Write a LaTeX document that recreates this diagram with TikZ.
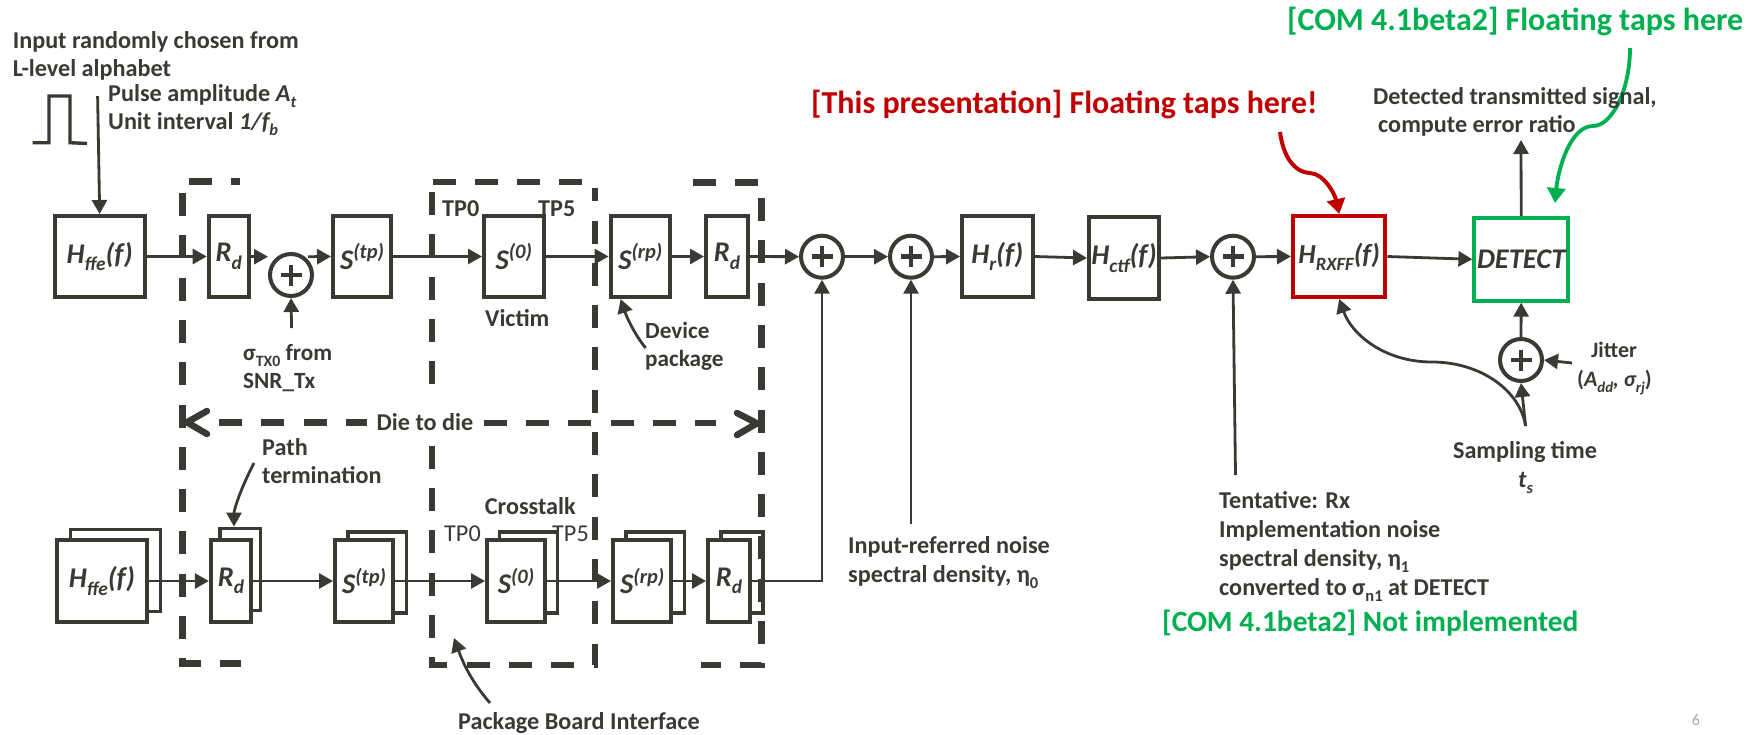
\documentclass[tikz,border=0pt]{standalone}
\usepackage{fontspec}
\setmainfont{Carlito}
\usetikzlibrary{arrows.meta}
\definecolor{ink}{HTML}{3A3A35}
\definecolor{redc}{HTML}{C00000}
\definecolor{greenc}{HTML}{00B050}
\newcommand\lo[1]{\raisebox{-.26em}{\scalebox{.68}{#1}}}
\newcommand\hi[1]{\raisebox{.36em}{\scalebox{.72}{#1}}}
\tikzset{
  box/.style={draw=ink,line width=4pt,fill=white,inner sep=0pt,text=ink,font=\fontsize{28.5}{30}\selectfont\bfseries\itshape},
  backbox/.style={draw=ink,line width=3.4pt,fill=white,inner sep=0pt},
  conn/.style={draw=ink,line width=2.8pt},
  arr/.style={conn,-{Triangle[length=14pt,width=15pt]}},
  dashbox/.style={draw=ink,line width=6.5pt,dash pattern=on 23pt off 19.3pt},
  sumnode/.style={circle,draw=ink,line width=4pt,fill=white,minimum size=42pt,inner sep=0pt,
    path picture={\draw[ink,line width=4.5pt]
      ([xshift=-10.5pt]path picture bounding box.center)--([xshift=10.5pt]path picture bounding box.center)
      ([yshift=-10.5pt]path picture bounding box.center)--([yshift=10.5pt]path picture bounding box.center);}},
  lab/.style={anchor=base west,inner sep=0pt,text=ink,font=\fontsize{24.2}{28}\selectfont\bfseries},
  labc/.style={lab,anchor=base},
  labreg/.style={lab,font=\fontsize{24.2}{28}\selectfont},
  hl/.style={anchor=base west,inner sep=0pt,font=\fontsize{32}{36}\selectfont\bfseries},
}
\begin{document}
\begin{tikzpicture}[x=1pt,y=-1pt]
\useasboundingbox (0,0) rectangle (1748,734);
\fill[white] (0,0) rectangle (1748,734);

% free ends
\coordinate (inp) at (97.6,96);
\coordinate (rdout) at (268,256.7);
\coordinate (sumout) at (308,256.7);
\coordinate (snr) at (291.6,328);
\coordinate (noise0) at (911,524);
\coordinate (noise1) at (1235.5,475);
\coordinate (ts) at (1525.6,426);
\coordinate (jit) at (1572,363);
\coordinate (det) at (1521,140);
\coordinate (pterm) at (254,463);
\coordinate (pbi) at (490,703);
\coordinate (pbitip) at (454,638);
\coordinate (devp) at (645.7,348);
\coordinate (redst) at (1280,132);
\coordinate (grnst) at (1630,48);
\coordinate (grnen) at (1555,203);

% top row
\node[box,minimum width=90pt,minimum height=81pt] (hffe) at (99.7,256.5) {H\lo{ffe}(f)};
\node[box,minimum width=40pt,minimum height=81pt] (rdA) at (228.7,256.5) {R\lo{d}};
\node[sumnode] (sumA) at (291,275) {};
\node[box,minimum width=58pt,minimum height=81pt] (stp) at (362,256.5) {S\hi{(tp)}};
\node[box,minimum width=59.5pt,minimum height=81pt] (szero) at (513.75,256.5) {S\hi{(0)}};
\node[box,minimum width=59.4pt,minimum height=81pt] (srp) at (640.3,256.5) {S\hi{(rp)}};
\node[box,minimum width=42pt,minimum height=81pt] (rdB) at (727,256.5) {R\lo{d}};
\node[sumnode] (sumB) at (822,256.7) {};
\node[sumnode] (sumC) at (911,256.7) {};
\node[box,minimum width=70.6pt,minimum height=81pt] (hr) at (997.3,256.5) {H\lo{r}(f)};
\node[box,minimum width=70pt,minimum height=82pt] (hctf) at (1124,258) {H\lo{ctf}(f)};
\node[sumnode] (sumD) at (1233,256.7) {};
\node[box,draw=redc,minimum width=92.5pt,minimum height=81pt,font=\fontsize{27.5}{30}\selectfont\bfseries\itshape] (hrx) at (1339.2,256.5) {H\lo{RXFF}(f)};
\node[box,draw=greenc,minimum width=93.6pt,minimum height=82.7pt] (detect) at (1521.2,259.3) {DETECT};
\node[sumnode] (sumE) at (1521,360) {};

% bottom row
\node[backbox,minimum width=90.4pt,minimum height=82.4pt] (hffeK) at (115.5,570.5) {};
\node[box,minimum width=90pt,minimum height=82pt] (hffeF) at (102,581) {H\lo{ffe}(f)};
\node[backbox,minimum width=40.4pt,minimum height=82.4pt] (rdK) at (240,569.5) {};
\node[box,minimum width=40.3pt,minimum height=82pt] (rdF) at (231,581) {R\lo{d}};
\node[backbox,minimum width=58.4pt,minimum height=81pt] (stpK) at (377,572.3) {};
\node[box,minimum width=58pt,minimum height=82pt] (stpF) at (364,581) {S\hi{(tp)}};
\node[backbox,minimum width=58.4pt,minimum height=81pt] (szK) at (528.5,572.3) {};
\node[box,minimum width=58pt,minimum height=82pt] (szF) at (516,581) {S\hi{(0)}};
\node[backbox,minimum width=58.4pt,minimum height=81pt] (srpK) at (655.3,572.3) {};
\node[box,minimum width=58.4pt,minimum height=82pt] (srpF) at (642.2,581) {S\hi{(rp)}};
\node[backbox,minimum width=41.9pt,minimum height=81pt] (rdbK) at (742,572.3) {};
\node[box,minimum width=42pt,minimum height=82pt] (rdbF) at (729,581) {R\lo{d}};

% connectors, top
\draw[arr] (inp) -- (hffe.north);
\draw[arr] (hffe.east) -- (rdA.west);
\draw[arr] (rdA.east|-rdout) -- (rdout);
\draw[arr] (sumout) -- (stp.west);
\draw[arr] (snr) -- (sumA.south);
\draw[arr] (stp.east) -- (szero.west);
\draw[arr] (szero.east) -- (srp.west);
\draw[arr] (srp.east) -- (rdB.west);
\draw[arr] (rdB.east) -- (sumB.west);
\draw[arr] (sumB.east) -- (sumC.west);
\draw[arr] (sumC.east) -- (hr.west);
\draw[arr] (hr.east) -- (hctf.west);
\draw[arr] (hctf.east) -- (sumD.west);
\draw[arr] (sumD.east) -- (hrx.west);
\draw[arr] (hrx.east) -- (detect.west);
\draw[arr] (detect.north) -- (det);
\draw[arr] (sumE.north) -- (detect.south);
\draw[arr] (noise0) -- (sumC.south);
\draw[arr] (noise1) -- (sumD.south);
\draw[arr] (ts) -- (sumE.south);
\draw[arr] (jit) -- (sumE.east);
\draw[arr] (ts) .. controls (1520,390) and (1480,362) .. (1432,362) .. controls (1385,362) and (1352,335) .. (hrx.south);

% connectors, bottom
\draw[arr] (hffeF.east) -- (rdF.west);
\draw[arr] (rdF.east) -- (stpF.west);
\draw[arr] (stpF.east) -- (szF.west);
\draw[arr] (szF.east) -- (srpF.west);
\draw[arr] (srpF.east) -- (rdbF.west);
\draw[arr] (rdbF.east) -| (sumB.south);

% callout curves
\draw[arr] (pterm) .. controls (240,490) and (234,510) .. ([xshift=-6pt]rdK.north);
\draw[arr] (pbi) .. controls (470,680) and (462,660) .. (pbitip);
\draw[arr] (devp) .. controls (635,335) and (627,318) .. ([xshift=12pt]srp.south west);
\draw[draw=redc,line width=4pt,-{Triangle[length=15pt,width=18pt]}] (redst) .. controls (1283,155) and (1293,172) .. (1310,173) .. controls (1325,174) and (1335,195) .. (hrx.north);
\draw[draw=greenc,line width=3.8pt,-{Triangle[length=15pt,width=18pt]}] (grnst) .. controls (1630,90) and (1612,126) .. (1593,126) .. controls (1570,126) and (1558,170) .. (grnen);

% pulse
\draw[ink,line width=3.4pt] (32.5,142.7) -- (49,142.7) -- (49,96) -- (70,96) -- (70,142.7) -- (87,143.5);

% dashed enclosures
\draw[dashbox] (188.7,181.5) -- (240,181.5);
\draw[dashbox] (182.5,193) -- (182.5,663.3) -- (241,663.3);
\draw[dashbox] (432.5,182) -- (582,182);
\draw[dashbox] (432,192) -- (432,665) -- (595,665) -- (595,188);
\draw[dashbox] (692.6,182.7) -- (758,182.7);
\draw[dashbox] (761.5,198) -- (761.5,665) -- (701,665);
% die to die
\draw[dashbox] (219,422.3) -- (367,422.3);
\draw[dashbox] (483.7,423) -- (716,423);
\draw[ink,line width=6.5pt,line cap=round,line join=miter] (207,411) -- (187,422.3) -- (207,434);
\draw[ink,line width=6.5pt,line cap=round,line join=miter] (737,413) -- (757,423.3) -- (737,435);
\node[labc,fill=white,inner xsep=8pt,text height=29pt,text depth=5pt] (die) at (425,430) {Die to die};

% labels
\node[lab] (t1) at (12.6,48.5) {Input randomly chosen from};
\node[lab] (t2) at (12.6,76.5) {L-level alphabet};
\node[lab] (t3) at (108,101) {Pulse amplitude \textit{A\lo{t}}};
\node[lab] (t4) at (108,129.5) {Unit interval \textit{1/f\lo{b}}};
\node[lab] (t5) at (442,216.7) {TP0};
\node[lab] (t6) at (538,216.7) {TP5};
\node[lab] (t7) at (485,326) {Victim};
\node[lab,font=\fontsize{23.2}{28}\selectfont\bfseries] (t8) at (243,360) {σ\lo{TX0} from};
\node[lab,font=\fontsize{23.2}{28}\selectfont\bfseries] (t9) at (243,388) {SNR\_Tx};
\node[lab,font=\fontsize{23.2}{28}\selectfont\bfseries] (t10) at (645,338.5) {Device};
\node[lab,font=\fontsize{23.2}{28}\selectfont\bfseries] (t11) at (645,366.5) {package};
\node[lab] (t12) at (262,455.5) {Path};
\node[lab] (t13) at (262,483) {termination};
\node[lab] (t14) at (484.7,514.5) {Crosstalk};
\node[labreg] (t15) at (444,541) {TP0};
\node[labreg] (t16) at (552,541) {TP5};
\node[lab] (t17) at (458,729.5) {Package Board Interface};
\node[lab] (t18) at (848,553.5) {Input-referred noise};
\node[lab] (t19) at (848,582.5) {spectral density, η\lo{0}};
\node[lab] (t20) at (1373,104) {Detected transmitted signal,};
\node[lab] (t21) at (1378,132.5) {compute error ratio};
\node[labc,font=\fontsize{22}{24}\selectfont\bfseries] (t22) at (1614,357) {Jitter};
\node[labc,font=\fontsize{22}{24}\selectfont\bfseries] (t23) at (1614.5,386.7) {(\textit{A\lo{dd}, σ\lo{rj}})};
\node[labc] (t24) at (1525,458) {Sampling time};
\node[labc] (t25) at (1525.6,487) {\textit{t\lo{s}}};
\node[lab] (t26) at (1219,508.5) {Tentative: Rx};
\node[lab] (t27) at (1219,537) {Implementation noise};
\node[lab] (t28) at (1219,566) {spectral density, η\lo{1}};
\node[lab] (t29) at (1219,595) {converted to σ\lo{n1} at DETECT};
\node[hl,text=greenc,font=\fontsize{29.4}{32}\selectfont\bfseries] (t30) at (1162,631.5) {[COM 4.1beta2] Not implemented};
\node[hl,text=greenc] (t31) at (1287,30.3) {[COM 4.1beta2] Floating taps here};
\node[hl,text=redc] (t32) at (811,113.7) {[This presentation] Floating taps here!};
\node[anchor=center,inner sep=0pt,text=black!35,font=\fontsize{16}{18}\selectfont] (t33) at (1696,720) {6};
\end{tikzpicture}
\end{document}
